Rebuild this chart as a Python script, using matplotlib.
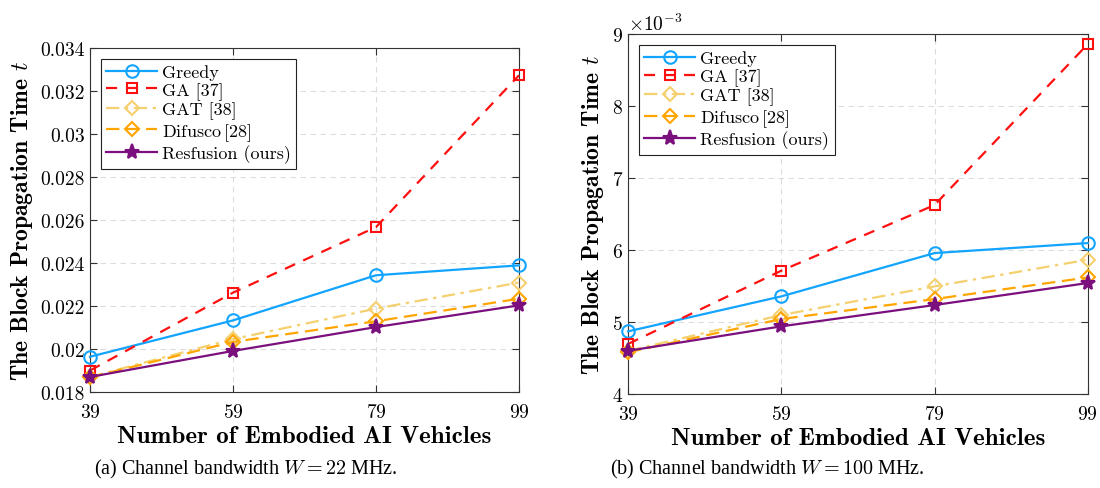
import matplotlib
matplotlib.use("Agg")
import matplotlib.pyplot as plt
from matplotlib.ticker import FuncFormatter, ScalarFormatter

plt.rcParams['mathtext.fontset'] = 'cm'
plt.rcParams['font.family'] = ['cmr10', 'DejaVu Serif']
plt.rcParams['axes.formatter.use_mathtext'] = True

# data
vehicles = [39, 59, 79, 99]
labels = ["Greedy", "GA [37]", "GAT [38]", "Difusco$\\,$[28]", "Resfusion (ours)"]

# (a) W = 22 MHz
greedy_a = [0.01964, 0.02133, 0.02343, 0.02389]
ga_a = [0.01900, 0.02262, 0.02567, 0.03273]
gat_a = [0.01870, 0.02046, 0.02188, 0.02309]
difusco_a = [0.01868, 0.02033, 0.02129, 0.02234]
resfusion_a = [0.01870, 0.01991, 0.02102, 0.02203]

# (b) W = 100 MHz (x 1e-3)
greedy_b = [4.87e-3, 5.356e-3, 5.958e-3, 6.097e-3]
ga_b = [4.695e-3, 5.713e-3, 6.625e-3, 8.861e-3]
gat_b = [4.60e-3, 5.097e-3, 5.495e-3, 5.866e-3]
difusco_b = [4.58e-3, 5.042e-3, 5.319e-3, 5.62e-3]
resfusion_b = [4.60e-3, 4.94e-3, 5.236e-3, 5.542e-3]

styles = [
    dict(color='#12a4ff', ls='-', marker='o', mfc='none'),
    dict(color='#ff1010', ls=(0, (5, 4)), marker='s', mfc='none', ms=7),
    dict(color='#f5d06e', ls=(0, (6, 2.5, 1.5, 2.5)), marker='D', mfc='none', ms=7.5),
    dict(color='#ffa500', ls=(0, (6, 3)), marker='D', mfc='none', ms=7.5),
    dict(color='#7b0f7e', ls='-', marker='*', mfc='#7b0f7e', ms=11),
]

fig = plt.figure(figsize=(11, 4.89), dpi=100)
ax1 = fig.add_axes([0.0818, 0.1963, 0.390, 0.7035])
ax2 = fig.add_axes([0.5709, 0.1922, 0.418, 0.736])


def draw(ax, series):
    for vals, lab, st in zip(series, labels, styles):
        kw = dict(lw=1.6, mew=1.5, ms=9)
        kw.update(st)
        ax.plot(vehicles, vals, label=lab, clip_on=False, zorder=3, **kw)
    ax.set_xlim(39, 99)
    ax.set_xticks(vehicles)
    ax.grid(True, ls=(0, (5, 4)), color='#dcdcdc', lw=0.8)
    ax.tick_params(direction='in', top=True, right=True, labelsize=14, length=5,
                   color='#333333')
    ax.tick_params(axis='x', pad=8)
    for sp in ax.spines.values():
        sp.set_color('#333333')
        sp.set_linewidth(0.8)
    ax.set_xlabel("Number of Embodied AI Vehicles", family='cmb10', fontsize=18,
                  labelpad=3)
    ax.set_ylabel("The Block Propagation Time $t$", family='cmb10', fontsize=17,
                  labelpad=4)
    leg = ax.legend(loc='upper left', fontsize=13, fancybox=False, framealpha=1,
                    edgecolor='#222222', handlelength=2.8, handletextpad=0.3,
                    borderpad=0.3, labelspacing=0.1, borderaxespad=0.6)
    leg.get_frame().set_linewidth(0.8)


draw(ax1, [greedy_a, ga_a, gat_a, difusco_a, resfusion_a])
ax1.set_ylim(0.018, 0.034)
ax1.set_yticks([0.018, 0.020, 0.022, 0.024, 0.026, 0.028, 0.030, 0.032, 0.034])
ax1.yaxis.set_major_formatter(FuncFormatter(lambda v, p: '%g' % round(v, 4)))

draw(ax2, [greedy_b, ga_b, gat_b, difusco_b, resfusion_b])
ax2.set_ylim(4e-3, 9e-3)
ax2.set_yticks([4e-3, 5e-3, 6e-3, 7e-3, 8e-3, 9e-3])
fmt = ScalarFormatter(useMathText=True)
fmt.set_powerlimits((-2, 2))
ax2.yaxis.set_major_formatter(fmt)
ax2.yaxis.get_offset_text().set_fontsize(14)

fig.text(0.223, 0.04, "(a) Channel bandwidth $W = 22$ MHz.", ha='center', va='center',
         family='Liberation Serif', fontsize=14.5)
fig.text(0.698, 0.04, "(b) Channel bandwidth $W = 100$ MHz.", ha='center', va='center',
         family='Liberation Serif', fontsize=14.5)

fig.savefig("out.png", dpi=100)
